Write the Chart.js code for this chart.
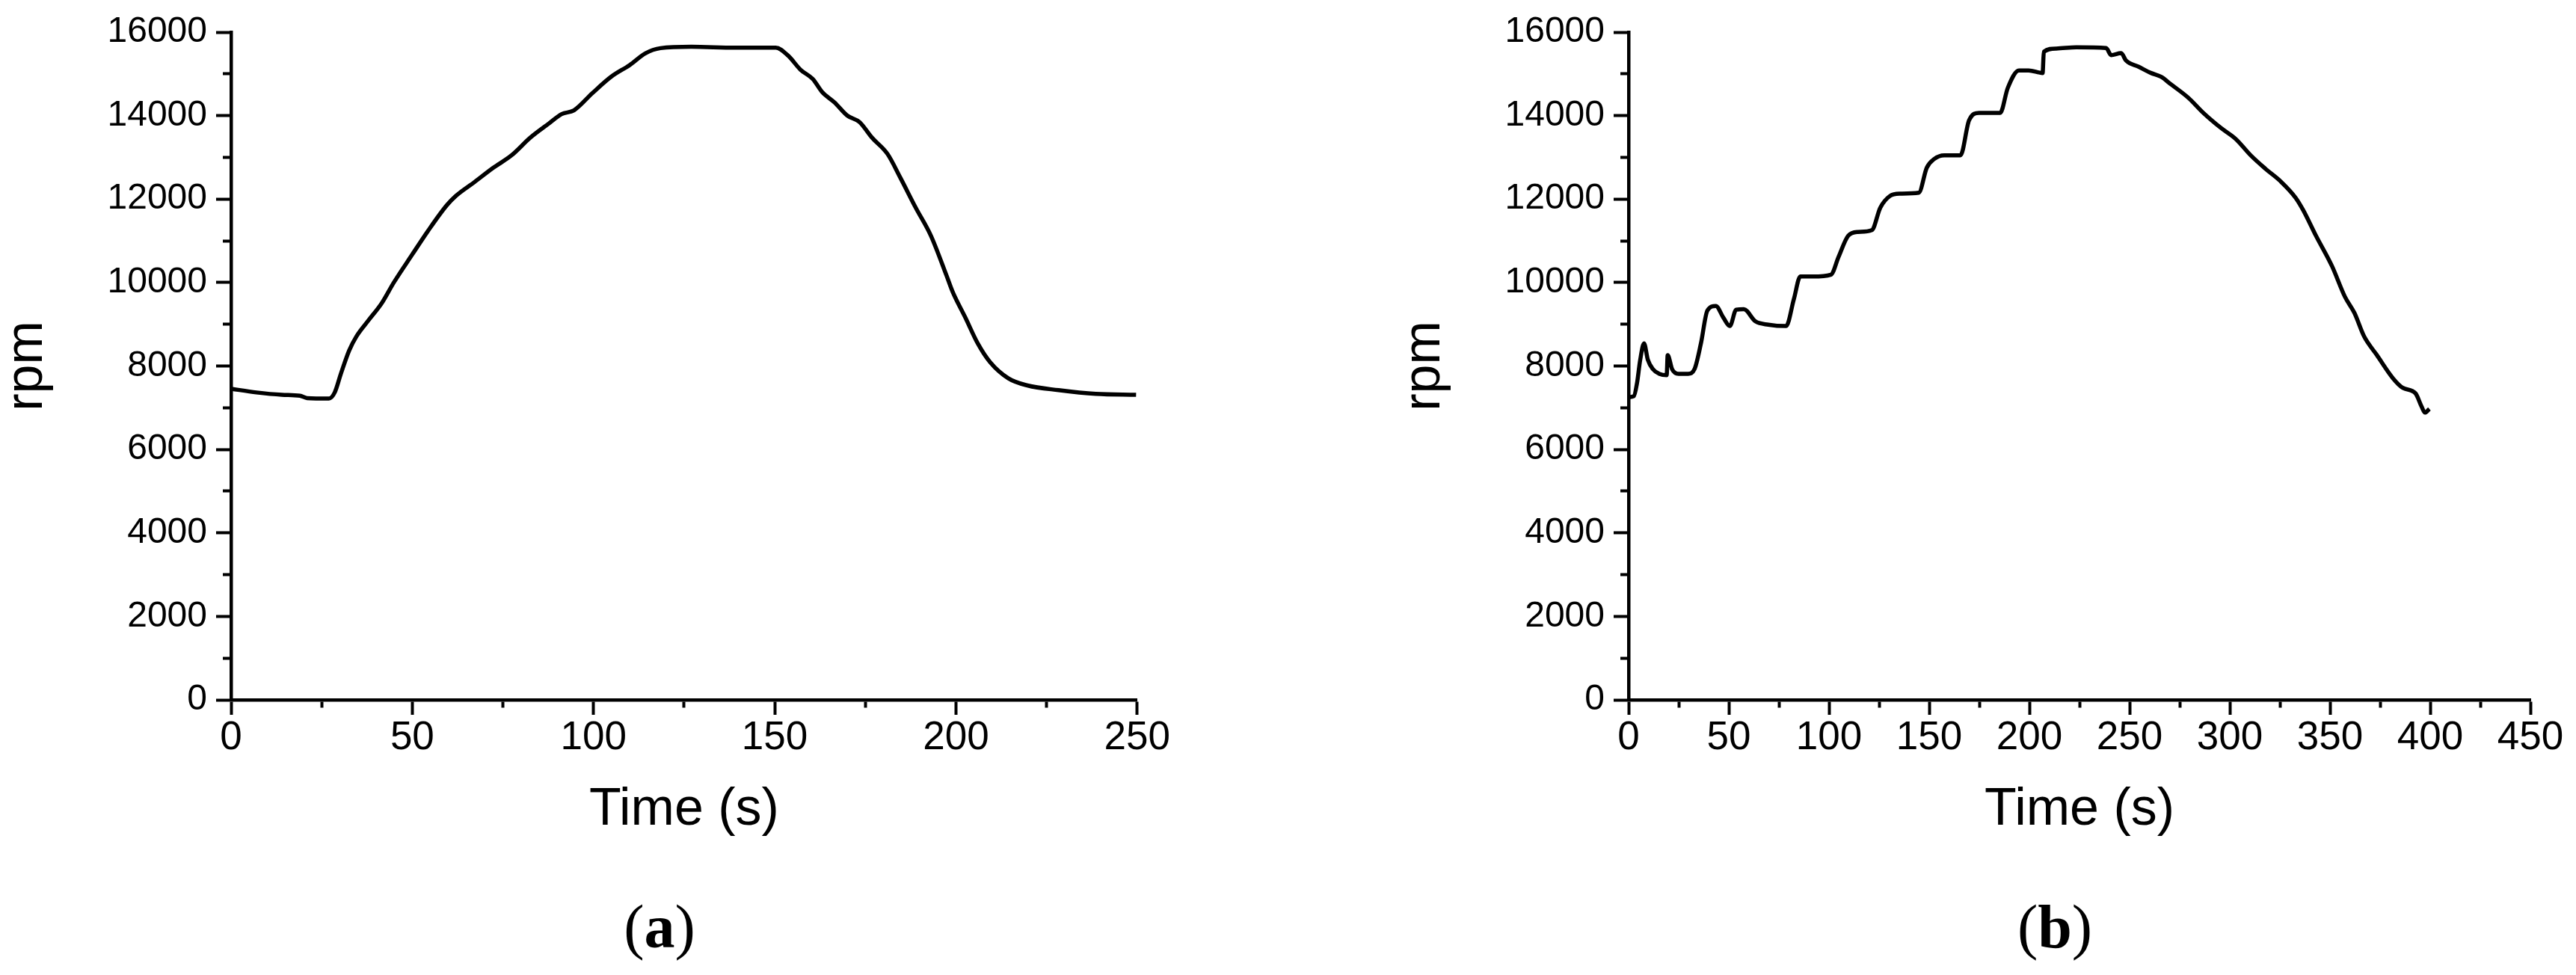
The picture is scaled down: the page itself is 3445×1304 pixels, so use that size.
<!DOCTYPE html>
<html>
<head>
<meta charset="utf-8">
<title>rpm vs time</title>
<script src="https://cdn.jsdelivr.net/npm/chart.js@4.4.1/dist/chart.umd.min.js"></script>
<style>
    html, body { margin: 0; padding: 0; background: #fff; overflow: hidden; }
    #page { position: relative; width: 3445px; height: 1304px; }
    canvas { position: absolute; top: 0; }
    #chartA { left: 0; }
    #chartB { left: 1869px; }
    .panel {
        position: absolute; top: 1199px;
        font-family: 'Liberation Serif', 'Times New Roman', serif;
        font-size: 82px; line-height: 1; color: #000;
        transform: translateX(-50%); white-space: nowrap;
    }
</style>
</head>
<body>
<div id="page">
    <canvas id="chartA" width="1570" height="1304"></canvas>
    <canvas id="chartB" width="1570" height="1304"></canvas>
    <div class="panel" style="left:882px">(<b>a</b>)</div>
    <div class="panel" style="left:2748px">(<b>b</b>)</div>
</div>
<script>
// (a) waktu dan putaran mesin
const timeA = [0, 7, 14, 19, 21, 27, 28.6, 30.3, 32.6, 34.6,
    38, 41.5, 44.9, 50, 54.3, 59.5, 62, 67.2, 72.3, 77.4,
    82.6, 87.7, 91.2, 94.6, 99.7, 104.9, 110, 114.3, 118.5, 127,
    139, 150.3, 153.7, 157.1, 160.5, 163.1, 166.5, 170, 173.4, 176.8,
    181.1, 184.6, 188.9, 193.1, 197.4, 199.1, 202.6, 206, 209.4, 214.5,
    219.7, 228.3, 238.6, 249.7];
const rpmA = [7455, 7366, 7310, 7287, 7231, 7220, 7366, 7814, 8374, 8711,
    9103, 9496, 10000, 10673, 11233, 11850, 12074, 12410, 12747, 13049,
    13475, 13812, 14036, 14126, 14540, 14933, 15213, 15493, 15617, 15650,
    15628, 15628, 15437, 15101, 14877, 14563, 14316, 14002, 13845, 13475,
    13083, 12522, 11794, 11121, 10168, 9776, 9159, 8543, 8094, 7702,
    7534, 7422, 7332, 7309];

// (b) waktu dan putaran mesin
const timeB = [0, 2.6, 4.2, 5.8, 7.7, 9.6, 12.1, 15.3, 19.0, 19.5,
    21.7, 24.9, 29.7, 32.9, 36.1, 39.3, 43.5, 47.3, 50.5, 53.7,
    57.5, 63.3, 69.7, 78.6, 82.5, 85.7, 92, 101, 104.8, 109.6,
    114.4, 121.4, 125.6, 130.4, 135.2, 144.8, 148.8, 152.5, 157.5, 165.6,
    169.9, 174.9, 185.4, 189.2, 194.8, 199.6, 206.6, 207.2, 213.4, 223.4,
    238.3, 240.8, 245.8, 248.2, 254.5, 260.7, 265.7, 270.6, 279.4, 286.8,
    295.5, 303, 310.4, 317.9, 325.4, 332.8, 336.6, 343, 351, 357.4,
    362.2, 367, 373.4, 381.5, 386.3, 392.7, 395.7, 397.4, 399.6];
const rpmB = [7253, 7276, 7590, 8150, 8543, 8150, 7926, 7814, 7780, 8262,
    7926, 7814, 7814, 7926, 8543, 9327, 9439, 9159, 8957, 9350,
    9361, 9070, 8991, 8957, 9608, 10146, 10146, 10190, 10617, 11121,
    11211, 11256, 11794, 12074, 12130, 12152, 12752, 12961, 13050, 13050,
    13886, 14065, 14065, 14662, 15081, 15081, 15021, 15530, 15607, 15637,
    15619, 15451, 15499, 15320, 15171, 15021, 14931, 14752, 14424, 14065,
    13707, 13439, 13050, 12722, 12423, 12035, 11738, 11121, 10393, 9664,
    9271, 8711, 8262, 7702, 7478, 7343, 7029, 6883, 6973];

// sumbu
const yMax = 16000, yStep = 1000, yLabelStep = 2000;
const xMaxA = 250, xMaxB = 450, xStep = 25, xLabelStep = 50;
const xTitle = 'Time (s)', yTitle = 'rpm';

Chart.defaults.color = '#000';

function buatOpsi(xMax) {
    return {
        responsive: false,
        animation: false,
        devicePixelRatio: 1,
        layout: { padding: { top: 43, left: 0, right: xMax === xMaxA ? 48 : 55, bottom: 0 } },
        plugins: { legend: { display: false }, tooltip: { enabled: false } },
        elements: { point: { radius: 0 } },
        scales: {
            x: {
                type: 'linear', min: 0, max: xMax,
                afterFit: s => { s.height = 1304 - 936; },
                grid: {
                    drawOnChartArea: false, drawTicks: true, tickLength: 20,
                    tickWidth: 4, tickColor: '#000',
                    // tick kecil: hanya 8px dari sumbu
                    tickBorderDash: ctx => (ctx.tick && ctx.tick.value % xLabelStep !== 0) ? [8, 40] : []
                },
                border: { display: true, color: '#000', width: 4.5 },
                ticks: {
                    stepSize: xStep, autoSkip: false, maxRotation: 0, padding: 5,
                    font: { family: "'Liberation Sans Narrow', 'Liberation Sans', Arial, sans-serif", size: 53, lineHeight: 1 },
                    callback: v => (v % xLabelStep === 0 ? String(v) : '')
                },
                title: {
                    display: true, text: xTitle,
                    font: { family: "'Liberation Sans', Arial, sans-serif", size: 70, lineHeight: 1.2 },
                    padding: { top: 0, bottom: 178 }
                }
            },
            y: {
                type: 'linear', min: 0, max: yMax,
                afterFit: s => { s.width = 309; },
                grid: {
                    drawOnChartArea: false, drawTicks: true, tickLength: 20,
                    tickWidth: 4, tickColor: '#000',
                    // garis tick kiri digambar dari luar ke sumbu
                    tickBorderDash: ctx => (ctx.tick && ctx.tick.value % yLabelStep !== 0) ? [0, 9, 10, 40] : []
                },
                border: { display: true, color: '#000', width: 4.5 },
                ticks: {
                    stepSize: yStep, autoSkip: false, padding: 12,
                    font: { family: "'Liberation Sans', Arial, sans-serif", size: 48 },
                    callback: v => (v % yLabelStep === 0 ? String(v) : '')
                },
                title: {
                    display: true, text: yTitle,
                    font: { family: "'Liberation Sans', Arial, sans-serif", size: 70, lineHeight: 1 },
                    padding: { top: 2, bottom: 0 }
                }
            }
        }
    };
}

function buatData(times, rpms) {
    return {
        datasets: [{
            data: times.map((t, i) => ({ x: t, y: rpms[i] })),
            borderColor: '#000',
            borderWidth: 5.5,
            fill: false,
            cubicInterpolationMode: 'monotone'
        }]
    };
}

new Chart(document.getElementById('chartA'), {
    type: 'line', data: buatData(timeA, rpmA), options: buatOpsi(xMaxA)
});
new Chart(document.getElementById('chartB'), {
    type: 'line', data: buatData(timeB, rpmB), options: buatOpsi(xMaxB)
});
</script>
</body>
</html>
